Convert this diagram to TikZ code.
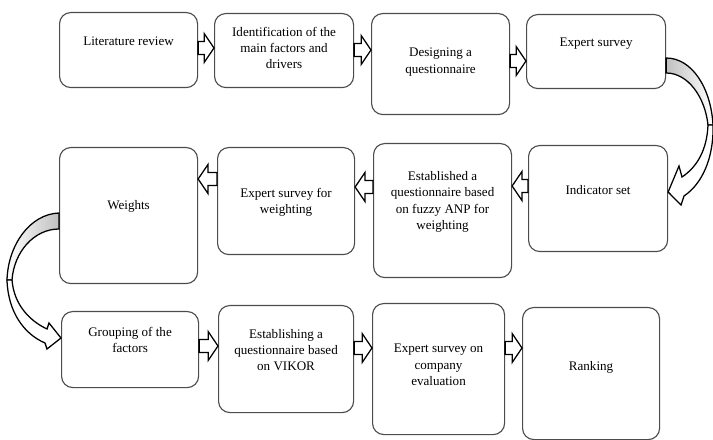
\documentclass[tikz,border=0pt]{standalone}
\usepackage{fontspec}
\setmainfont{Liberation Serif}
\usetikzlibrary{calc,positioning}

\tikzset{
  box/.style={draw=black!70, line width=0.8pt, rounded corners=0.28cm, anchor=north west, inner sep=0pt},
  boxsize/.style 2 args={minimum width=#1*0.025cm, minimum height=#2*0.025cm},
  txt/.style={align=center, font=\fontsize{9.3}{11.6}\selectfont, inner sep=0pt},
  blockarr/.style={draw=black, line width=0.9pt, fill=white, line join=miter},
  curvarr/.style={draw=black, line width=0.9pt, fill=white, line join=miter},
  curvback/.style={draw=black, line width=0.9pt},
}

% block arrow pointing right, from #1 to #2 at height #3
\newcommand{\rightblock}[3]{%
  \draw[blockarr] let \p1=(#1.east |- 0,#3), \p2=(#2.west |- 0,#3) in
    (\x1,\y1+4.6pt) -- (\x2-7pt,\y1+4.6pt) -- (\x2-7pt,\y1+10.3pt) -- (\x2,\y1)
    -- (\x2-7pt,\y1-10.3pt) -- (\x2-7pt,\y1-4.6pt) -- (\x1,\y1-4.6pt) -- cycle;}
% block arrow pointing left
\newcommand{\leftblock}[3]{%
  \draw[blockarr] let \p1=(#1.west |- 0,#3), \p2=(#2.east |- 0,#3) in
    (\x1,\y1+4.6pt) -- (\x2+7pt,\y1+4.6pt) -- (\x2+7pt,\y1+10.3pt) -- (\x2,\y1)
    -- (\x2+7pt,\y1-10.3pt) -- (\x2+7pt,\y1-4.6pt) -- (\x1,\y1-4.6pt) -- cycle;}

\begin{document}
\begin{tikzpicture}[x=0.025cm, y=-0.025cm]
  \useasboundingbox (0,0) rectangle (713,440);

  % first row
  \node[box, boxsize={138}{75}] (lit) at (59,12) {};
  \node[box, boxsize={139}{74}] (ident) at (214,13) {};
  \node[box, boxsize={138}{101}] (design) at (371,13) {};
  \node[box, boxsize={139}{74}] (expert) at (526,14) {};
  \node[txt] (litT) at ($(lit.north)+(0,29)$) {Literature review};
  \node[txt] (identT) at ($(ident.north)+(0,35)$) {Identification of the\\main factors and\\drivers};
  \node[txt] (designT) at ($(design.north)+(0,49)$) {Designing a\\questionnaire};
  \node[txt] (expertT) at ($(expert.north)+(0,30)$) {Expert survey};

  % second row
  \node[box, boxsize={139}{106}] (indic) at (528,145) {};
  \node[box, boxsize={138}{134}] (estab) at (373,143) {};
  \node[box, boxsize={137}{107}] (expw) at (217,147) {};
  \node[box, boxsize={138}{136}] (weights) at (59,147) {};
  \node[txt] (indicT) at ($(indic.north)+(0,45)$) {Indicator set};
  \node[txt] (estabT) at ($(estab.north)+(0,59)$) {Established a\\questionnaire based\\on fuzzy ANP for\\weighting};
  \node[txt] (expwT) at ($(expw.north)+(0,55)$) {Expert survey for\\weighting};
  \node[txt] (weightsT) at ($(weights.north)+(0,59)$) {Weights};

  % third row
  \node[box, boxsize={137}{76}] (group) at (61,311) {};
  \node[box, boxsize={135}{107}] (vikor) at (218,305) {};
  \node[box, boxsize={132}{131}] (company) at (372,303) {};
  \node[box, boxsize={137}{132}] (rank) at (522,307) {};
  \node[txt] (groupT) at ($(group.north)+(0,29)$) {Grouping of the\\factors};
  \node[txt] (vikorT) at ($(vikor.north)+(0,45)$) {Establishing a\\questionnaire based\\on VIKOR};
  \node[txt] (companyT) at ($(company.north)+(0,62)$) {Expert survey on\\company\\evaluation};
  \node[txt] (rankT) at ($(rank.north)+(0,60)$) {Ranking};

  % straight arrows
  \rightblock{lit}{ident}{48}
  \rightblock{ident}{design}{50}
  \rightblock{design}{expert}{61}
  \leftblock{indic}{estab}{186}
  \leftblock{estab}{expw}{187}
  \leftblock{expw}{weights}{179}
  \rightblock{group}{vikor}{346}
  \rightblock{vikor}{company}{348}
  \rightblock{company}{rank}{348}

  % curved arrow, expert survey to indicator set
  \draw[curvback, left color=gray!50, right color=white]
    (expert.east |- 0,58) .. controls (692,58) and (711,88) .. (713,125)
    -- (708,125) .. controls (705,97) and (688,73) .. (expert.east |- 0,73) -- cycle;
  \draw[curvarr] (713,125) .. controls (714,158) and (702,184) .. (684,196)
    -- (681,205) -- (indic.east |- 0,192) -- (679,166) -- (682,177)
    .. controls (697,167) and (707,150) .. (708,125) -- cycle;

  % curved arrow, weights to grouping
  \draw[curvback, left color=white, right color=gray!50]
    (weights.west |- 0,213) .. controls (30,214) and (8,245) .. (7,280)
    -- (12,280) .. controls (14,252) and (34,229) .. (weights.west |- 0,229) -- cycle;
  \draw[curvarr] (7,280) .. controls (8,312) and (24,334) .. (45,343)
    -- (47,349) -- (group.west |- 0,338) -- (49,323) -- (47,329)
    .. controls (30,321) and (14,305) .. (12,280) -- cycle;
\end{tikzpicture}
\end{document}
